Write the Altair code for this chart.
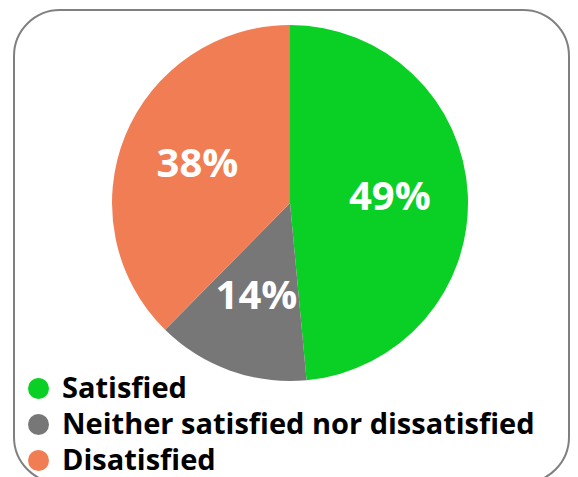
import altair as alt
import pandas as pd

categories = ["Satisfied", "Neither satisfied nor dissatisfied", "Disatisfied"]
values = [49, 14, 38]
labels = ["49%", "14%", "38%"]
order = [1, 2, 3]
colors = ["#0ACF24", "#777777", "#F17D55"]

df = pd.DataFrame({"category": categories, "value": values, "label": labels, "order": order})

CX, CY = 282, 195

color_scale = alt.Scale(domain=categories, range=colors)

border = alt.Chart(pd.DataFrame({"a": [0]})).mark_rect(
    fill="white", stroke="#808080", strokeWidth=2, cornerRadius=46
).encode(
    x=alt.value(6), x2=alt.value(561), y=alt.value(2), y2=alt.value(475)
)

base = alt.Chart(df).encode(
    theta=alt.Theta("value:Q", stack=True),
    order=alt.Order("order:Q", sort="ascending"),
)

pie = base.mark_arc(outerRadius=178).encode(
    x=alt.value(CX), y=alt.value(CY),
    color=alt.Color(
        "category:N", scale=color_scale, sort=categories,
        legend=alt.Legend(
            title=None, orient="none", legendX=16, legendY=366,
            symbolType="circle", symbolSize=441, symbolStrokeWidth=0,
            labelFont="Open Sans", labelFontWeight="bold", labelFontSize=29,
            labelColor="black", rowPadding=6, labelOffset=9,
            labelLimit=700,
        ),
    ),
)

text = base.mark_text(
    radius=100, font="Open Sans", fontWeight="bold", fontSize=40, color="white"
).encode(
    x=alt.value(CX), y=alt.value(CY),
    text="label:N",
)

chart = alt.layer(border, pie, text).properties(
    width=562, height=469, padding=0, autosize=alt.AutoSizeParams(type="none")
).configure_view(stroke=None)

chart.save("out.html", embed_options={"renderer": "svg", "actions": False})
